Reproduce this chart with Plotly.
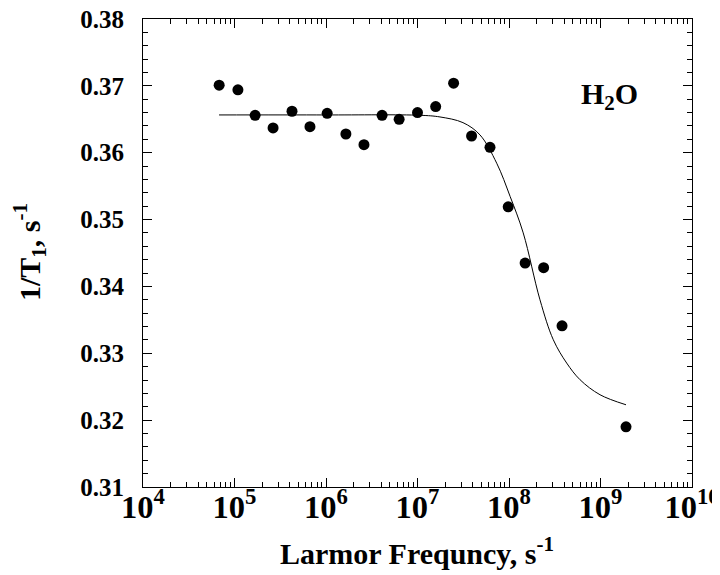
import plotly.graph_objects as go

# Measured data points
freq = [6.8e4, 1.09e5, 1.68e5, 2.64e5, 4.25e5, 6.68e5, 1.03e6, 1.65e6, 2.6e6,
        4.1e6, 6.3e6, 1.0e7, 1.58e7, 2.48e7, 3.9e7, 6.2e7, 9.8e7, 1.5e8,
        2.39e8, 3.8e8, 1.9e9]
rate = [0.3701, 0.3694, 0.3656, 0.3637, 0.3662, 0.3639, 0.3659, 0.3628, 0.3612,
        0.3656, 0.3650, 0.3660, 0.3669, 0.3704, 0.3625, 0.3608, 0.3519, 0.3435,
        0.3428, 0.3341, 0.3190]

# Fit curve
fit_freq = [6.78e4, 1.0e6, 1.06e7, 1.76e7, 3.14e7, 4.82e7, 7.34e7, 1.03e8, 1.43e8,
            2.18e8, 3.05e8, 4.27e8, 5.98e8, 9.88e8, 1.9e9]
fit_rate = [0.36565, 0.36565, 0.3656, 0.36535, 0.3645, 0.36266, 0.35843, 0.35344, 0.34801,
            0.33800, 0.33202, 0.32854, 0.32604, 0.32380, 0.32230]

x_title = "Larmor Frequncy, s<sup>-1</sup>"
y_title = "1/T<sub>1</sub>, s<sup>-1</sup>"
label_text = "H<sub>2</sub>O"

FONT = "Liberation Serif"
W, H = 720, 575
# the page body adds an 8px offset, so margins are compensated
L, R, T, B = 135, 36, 11, 96
PW, PH = W - L - R, H - T - B


def px(xp):
    return (xp - L) / PW


def py(yp):
    return (H - B - yp) / PH


fig = go.Figure()
fig.add_trace(go.Scatter(x=fit_freq, y=fit_rate, mode="lines", line_shape="spline",
                         line=dict(color="black", width=1), showlegend=False))
fig.add_trace(go.Scatter(x=freq, y=rate, mode="markers",
                         marker=dict(color="black", size=11), showlegend=False))

# H2O label
fig.add_annotation(x=px(601), y=py(88), xref="paper", yref="paper",
                   xanchor="center", yanchor="middle",
                   text=label_text, showarrow=False,
                   font=dict(family=FONT, size=30, color="black", weight="bold"))
# axis titles
fig.add_annotation(x=px(409), y=py(543), xref="paper", yref="paper",
                   xanchor="center", yanchor="middle",
                   text=x_title, showarrow=False,
                   font=dict(family=FONT, size=30, color="black", weight="bold"))
fig.add_annotation(x=px(21), y=py(244), xref="paper", yref="paper",
                   xanchor="center", yanchor="middle",
                   text=y_title, showarrow=False, textangle=-90,
                   font=dict(family=FONT, size=30, color="black", weight="bold"))

fig.update_layout(
    width=W, height=H,
    margin=dict(l=L, r=R, t=T, b=B),
    paper_bgcolor="white", plot_bgcolor="white",
    font=dict(family=FONT, color="black", weight="bold"),
    xaxis=dict(
        type="log", range=[4, 10], dtick=1, exponentformat="power",
        showgrid=False, zeroline=False, automargin=False,
        showline=True, linecolor="black", linewidth=1, mirror="ticks",
        ticks="inside", ticklen=9, tickcolor="black", tickwidth=1,
        minor=dict(ticks="inside", ticklen=5, tickcolor="black", dtick="D1", showgrid=False),
        tickfont=dict(family=FONT, size=26, color="black", weight="bold"),
        ticklabelstandoff=-8, ticklabeloverflow="allow",
    ),
    yaxis=dict(
        range=[0.31, 0.38], dtick=0.01, tickformat=".2f",
        showgrid=False, zeroline=False, automargin=False,
        showline=True, linecolor="black", linewidth=1, mirror="ticks",
        ticks="inside", ticklen=9, tickcolor="black", tickwidth=1,
        minor=dict(ticks="inside", ticklen=5, tickcolor="black", dtick=0.002, showgrid=False),
        tickfont=dict(family=FONT, size=25, color="black", weight="bold"),
        ticklabelstandoff=13, ticklabeloverflow="allow",
    ),
)

fig.write_html("out.html")
